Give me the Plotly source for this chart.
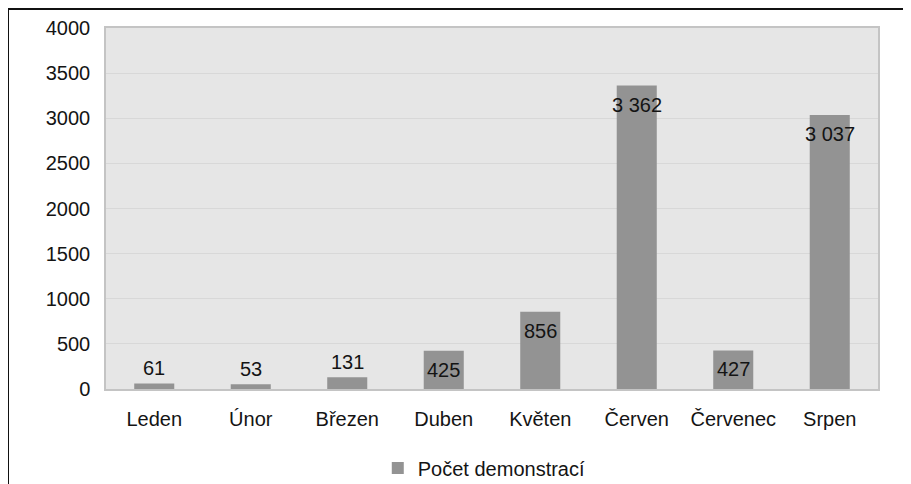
import plotly.graph_objects as go

months = ["Leden", "Únor", "Březen", "Duben", "Květen", "Červen", "Červenec", "Srpen"]
counts = [61, 53, 131, 425, 856, 3362, 427, 3037]
series_name = "Počet demonstrací"
y_ticks = [0, 500, 1000, 1500, 2000, 2500, 3000, 3500, 4000]

# page body has an 8px margin; target positions are in window pixels
O = 8
W, H = 911 - O, 484 - O
ML, MT = 106 - O, 28 - O
PR, PB = 878 - O, 389 - O  # plot right/bottom in figure px
MR, MB = W - PR, H - PB
pw, ph = W - ML - MR, H - MT - MB

def px_x(x):  # window px -> paper
    return (x - O - ML) / pw

def px_y(y):
    return (PB - (y - O)) / ph

font = "Liberation Sans, Arial, sans-serif"
txt = "#141414"

fig = go.Figure()
fig.add_trace(go.Bar(
    x=months, y=counts, name=series_name,
    marker=dict(color="#939393", line=dict(width=0)),
    showlegend=True,
))

def fmt(v):
    return f"{v:,}".replace(",", " ")

anns = []
for m, v in zip(months, counts):
    if v < 300:
        anns.append(dict(x=m, y=v, text=fmt(v), showarrow=False, yanchor="bottom",
                         yshift=2, font=dict(family=font, size=20, color=txt)))
    else:
        anns.append(dict(x=m, y=v, text=fmt(v), showarrow=False, yanchor="middle",
                         yshift=-19, font=dict(family=font, size=20, color=txt)))

shapes = [
    dict(type="line", xref="paper", yref="paper", x0=px_x(O), x1=px_x(911 + 10),
         y0=px_y(9), y1=px_y(9), line=dict(color="#111111", width=2)),
    dict(type="line", xref="paper", yref="paper", x0=px_x(O), x1=px_x(O),
         y0=px_y(9), y1=px_y(484 + 10), line=dict(color="#111111", width=2)),
]

fig.update_layout(
    width=W, height=H,
    margin=dict(l=ML, r=MR, t=MT, b=MB, autoexpand=False),
    paper_bgcolor="white",
    plot_bgcolor="#e6e6e6",
    bargap=0.585,
    font=dict(family=font, size=20, color=txt),
    annotations=anns,
    shapes=shapes,
    legend=dict(orientation="h", x=0.49, xanchor="center",
                yref="container", y=1 - (468 - O) / H, yanchor="middle",
                font=dict(family=font, size=20, color=txt), itemwidth=30,
                bgcolor="rgba(0,0,0,0)"),
    xaxis=dict(showgrid=False, showline=True, linecolor="#c4c4c4", linewidth=1.5, mirror=True,
               ticks="outside", ticklen=11, tickcolor="rgba(0,0,0,0)", automargin=False,
               tickfont=dict(family=font, size=20, color=txt)),
    yaxis=dict(range=[0, 4000], tickvals=y_ticks, showgrid=True, gridcolor="#d8d8d8",
               gridwidth=1, showline=True, linecolor="#c4c4c4", linewidth=1.5, mirror=True,
               zeroline=False, ticks="outside", ticklen=10, tickcolor="rgba(0,0,0,0)",
               automargin=False,
               tickfont=dict(family=font, size=20, color=txt)),
)

fig.write_html("out.html")
